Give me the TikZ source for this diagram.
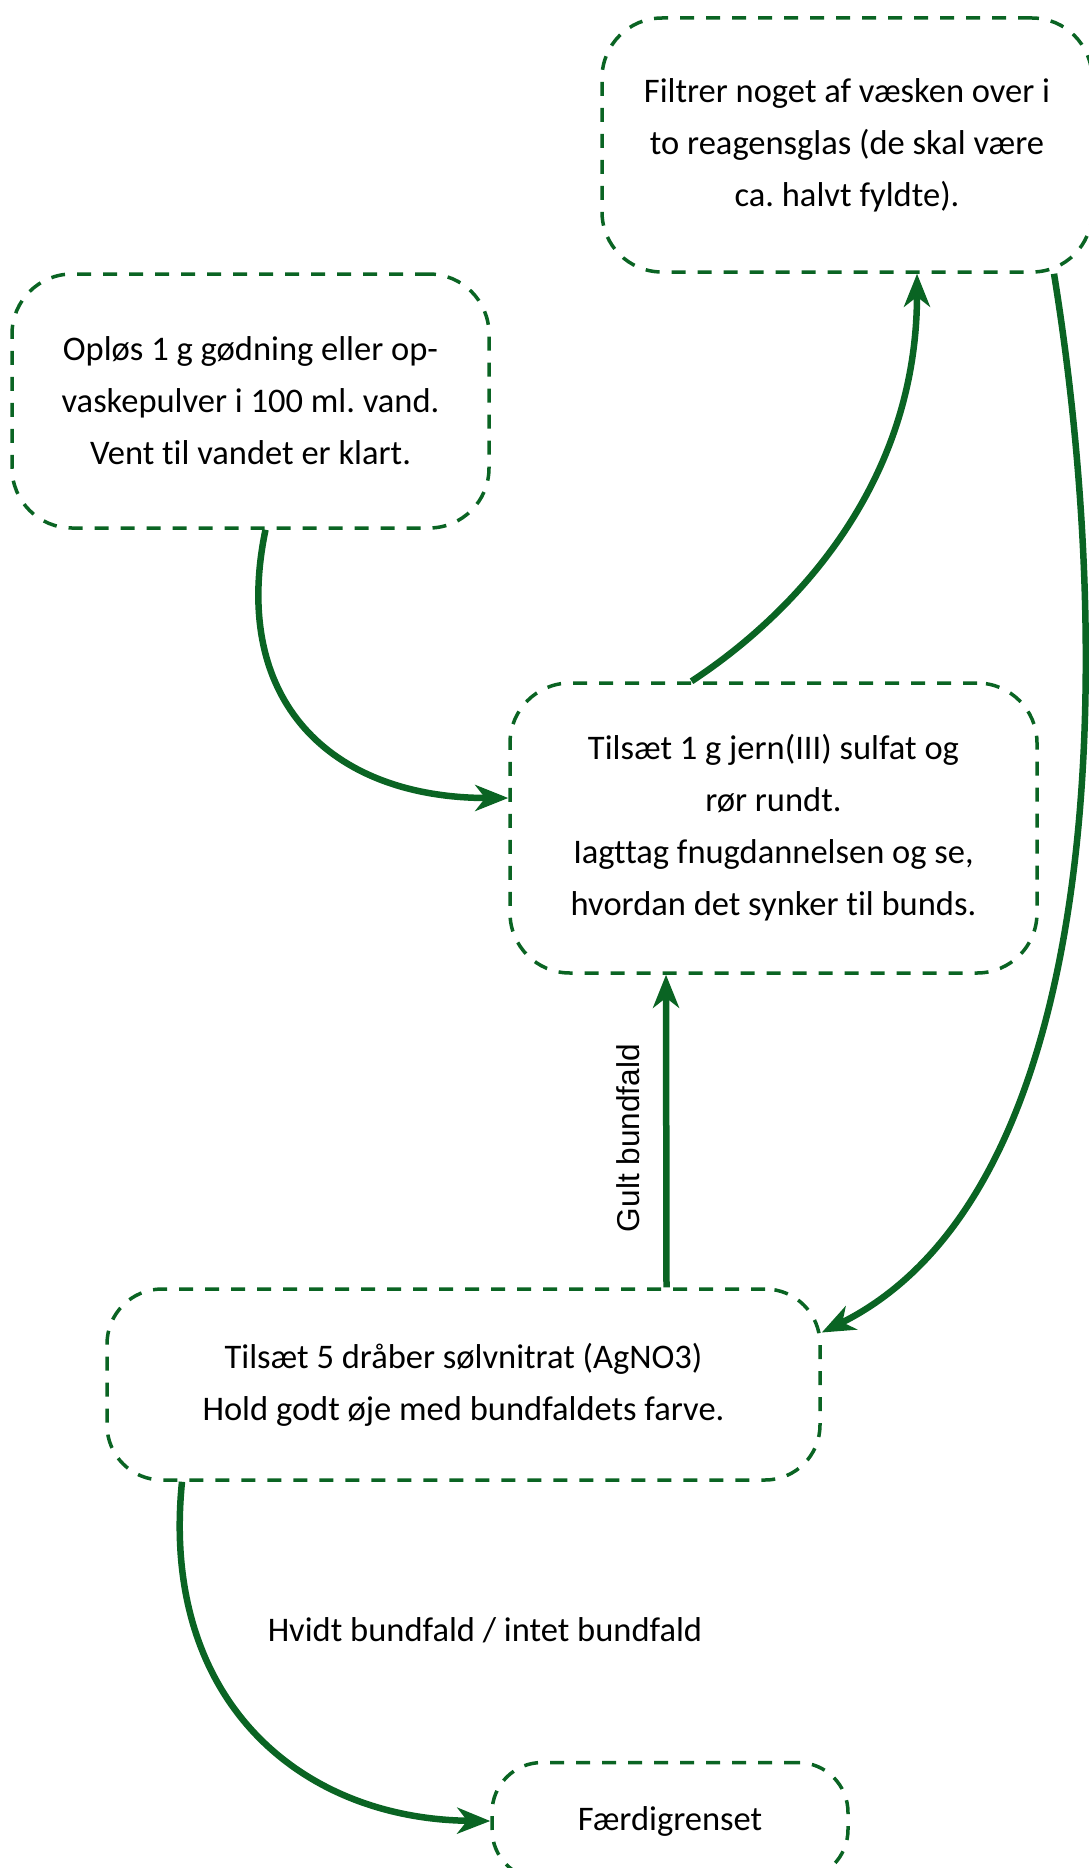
\documentclass[tikz,border=0pt]{standalone}
\usepackage{fontspec}
\setmainfont{Carlito}[Ligatures=NoCommon]
\newfontfamily\labelsans{Liberation Sans}
\usetikzlibrary{arrows.meta}
\definecolor{dg}{RGB}{10,100,35}
\begin{document}
\frenchspacing
\begin{tikzpicture}[x=1pt,y=-1pt,
  box/.style={draw=dg, line width=3.5pt, dash pattern=on 14pt off 12pt, rounded corners=60pt, align=center, font=\fontsize{34.5}{52}\selectfont, inner sep=0pt},
  arr/.style={draw=dg, line width=6.5pt, -{Stealth[length=33pt,width=26pt,inset=10pt]}},
  lbl/.style={font=\fontsize{34.5}{52}\selectfont}
]
\useasboundingbox (0,0) rectangle (1089,1868);

\node[box, minimum width=490pt, minimum height=254pt] (filt) at (847,145) {Filtrer noget af væsken over i\\to reagensglas (de skal være\\ca. halvt fyldte).};
\node[box, minimum width=477pt, minimum height=254pt] (opl) at (250.5,401) {Opløs 1 g gødning eller op-\\vaskepulver i 100 ml. vand.\\Vent til vandet er klart.};
\node[box, minimum width=527pt, minimum height=290pt] (jern) at (773.5,828) {Tilsæt 1 g jern(III) sulfat og\\rør rundt.\\Iagttag fnugdannelsen og se,\\hvordan det synker til bunds.};
\node[box, minimum width=713pt, minimum height=191pt, rounded corners=55pt] (agno) at (463.5,1384.5) {Tilsæt 5 dråber sølvnitrat (AgNO3)\\Hold godt øje med bundfaldets farve.};
\node[box, minimum width=356pt, minimum height=117pt, rounded corners=50pt] (faer) at (670,1821) {Færdigrenset};

\draw[arr] ([xshift=15pt]opl.south) .. controls (230,700) and (330,798) .. ([yshift=30pt]jern.west);
\draw[arr] ([xshift=-82pt]jern.north) .. controls (800,610) and (917,480) .. ([xshift=70pt]filt.south);
\draw[arr] ([xshift=207pt]filt.south) .. controls (1115,650) and (1110,1190) .. ([yshift=52pt]agno.east);
\draw[arr] ([xshift=203pt]agno.north) -- ([xshift=-107.5pt]jern.south);
\node[rotate=90, font=\labelsans\fontsize{31.6}{38}\selectfont] (gult) at (628,1138) {Gult bundfald};
\draw[arr] ([xshift=-281.5pt]agno.south) .. controls (160,1700) and (300,1819) .. (faer.west);
\node[lbl] (hv) at (485,1630) {Hvidt bundfald / intet bundfald};
\end{tikzpicture}
\end{document}
